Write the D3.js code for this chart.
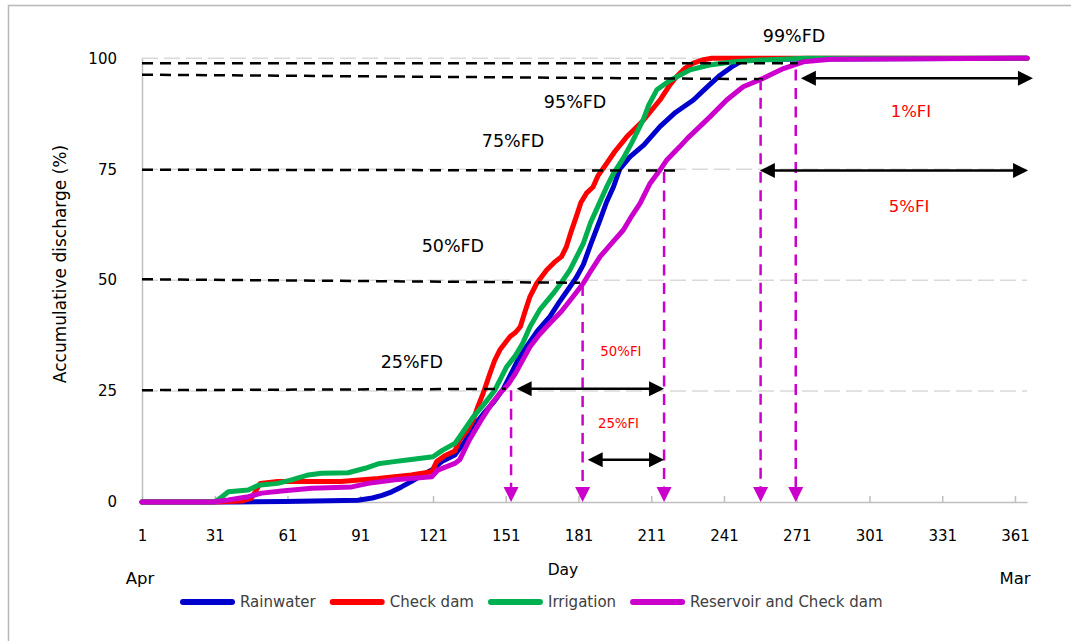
<!DOCTYPE html>
<html><head><meta charset="utf-8">
<script src="https://cdn.jsdelivr.net/npm/d3@7"></script>
<style>
body{margin:0;background:#fff}
svg{display:block}
text{font-family:"DejaVu Sans",Verdana,sans-serif}
</style>
</head><body>
<svg id="chart" width="1071" height="641"></svg>
<script>
// ---------------- data ----------------
const xTickValues = [1, 31, 61, 91, 121, 151, 181, 211, 241, 271, 301, 331, 361];
const yTickValues = [0, 25, 50, 75, 100];
const gridValues = [25, 50, 75, 100];
const seriesNames = ["Rainwater", "Check dam", "Irrigation", "Reservoir and Check dam"];
const seriesColors = ["#0000CC", "#FF0000", "#00B050", "#CC00CC"];

// [day, accumulative discharge %]
const rainwater = [[1,0],[40,0],[60,0.1],[90,0.4],[96,0.9],[100,1.5],[104,2.3],[108,3.4],[112,4.6],[116,5.9],[120.5,7.2],[124.6,9.1],[130,10.6],[134,13.5],[137.6,17],[142,20],[146,22.5],[150,25.5],[152.8,28.5],[156,32],[159.6,35],[164,38.5],[169.2,41.8],[173,45],[177.5,48.5],[180,50.5],[183,53.5],[186,58],[189.9,63.6],[192.5,67.5],[195.4,71],[198,75],[202.2,77.8],[208,80.5],[214.6,84.6],[221,87.8],[228.4,90.6],[234,93.5],[239.4,96.2],[244,98],[248,99.3],[252,99.8],[366,100]];
const checkDam = [[1,0],[31,0],[42,0.2],[46,0.8],[48,2.5],[49.7,4.2],[57,4.6],[83,4.6],[98.4,5.3],[112,6.1],[120.5,6.8],[122.5,9.1],[126,10.5],[130,11.5],[132,14],[135,16],[137.6,18.5],[139.5,21.5],[141.7,24.5],[144.5,29],[146.5,32],[148.6,34.3],[152.8,37.3],[155,38.2],[157,39.5],[159,43],[161,46.3],[163.8,49.3],[167.9,52.3],[171,54],[174,55.3],[176,57.5],[178,61],[180.2,64.5],[182,67.5],[184.3,69.6],[187,71],[189,73.5],[192.6,76.3],[196,79],[200.9,82.3],[207.7,86],[214.6,90.6],[218.7,94],[221.5,95.9],[225,97.8],[228.4,98.9],[232,99.6],[236,100],[366,100]];
const irrigation = [[1,0],[31,0],[34,1.2],[36.6,2.3],[44.8,2.7],[49,3.8],[57,4.2],[62.7,5],[69.6,6.1],[75,6.5],[86,6.6],[93,7.6],[98.4,8.6],[105,9.1],[112,9.6],[121,10.2],[125,11.7],[130,13.2],[132,14.7],[137.6,19.2],[142,22],[146.5,25.2],[151.4,30.5],[155,33],[158,35.8],[161,39.5],[165,43.3],[170.6,47],[174,49.5],[177.5,52.3],[180,55],[183,58.3],[186,63],[188.5,66],[192.6,71],[195.4,74],[199.5,77.5],[203,81],[207.7,86.2],[210,89.5],[213.3,92.9],[218.7,95],[227,97.4],[235,98.5],[245,99.2],[256,99.6],[275,100],[366,100]];
const reservoirCheckDam = [[1,0],[30,0],[36.6,0.45],[44.8,1.2],[50.3,2],[58.6,2.5],[71,3.1],[87.5,3.4],[94.3,4.2],[105.3,5],[120.5,5.7],[123,7.2],[130,8.7],[132,9.5],[136,14],[141.7,19.2],[145,22],[148.6,24.5],[152,26.5],[155,29],[161,35],[165,37.8],[169.2,40.3],[174,43],[178.8,46.3],[183,49.3],[186,52],[189.9,55.3],[195,58.5],[199.5,61.3],[203,64.5],[206.4,67.3],[210.5,71.8],[214.6,74.8],[217.3,77],[222.8,80.1],[226,82],[231,84.6],[235.2,86.8],[242.1,90.6],[248.9,93.6],[257.2,95.5],[265.5,97.7],[273.7,99.2],[285,99.8],[366,100]];
const seriesData = [rainwater, checkDam, irrigation, reservoirCheckDam];

// flow-duration reference lines: [startDay, startValue, endDay, endValue]
const fdLines = [[1,98.9,271.5,98.9],[1,96.3,257,95.3],[1,74.9,220.8,74.7],[1,50.2,181.6,49.4],[1,25.2,151,25.5]];
// drop lines to the day axis: [day, topValue]
const dropLines = [[153.2,25.2],[182.7,48.9],[216.3,74.4],[256.1,95.3],[270.6,97.5]];
// double arrows: [value, fromDay, toDay]
const fiArrows = [[25.5,155.5,216.3],[9.5,184.8,216.3],[95.5,272.7,368.4],[74.7,255.8,366.4]];
// annotation labels: [text, day, value]
const fdLabels = [["99%FD",269.9,103.7],["95%FD",179.6,88.8],["75%FD",154,80],["50%FD",129.2,56.3],["25%FD",112.3,30.2]];
const fiLabelsSmall = [["50%FI",198.5,32.9],["25%FI",197.5,16.7]];
const fiLabelsLarge = [["1%FI",318.1,86.8],["5%FI",317.3,65.4]];

// ---------------- drawing ----------------
const svg = d3.select("#chart");
svg.append("rect").attr("x",0).attr("y",0).attr("width",1071).attr("height",641).attr("fill","#fff");
svg.append("rect").attr("x",8.5).attr("y",5.5).attr("width",1100).attr("height",700)
   .attr("fill","none").attr("stroke","#b8b8b8").attr("stroke-width",1.5);

const x = d3.scaleLinear().domain([1,366]).range([142,1027.1]);
const y = d3.scaleLinear().domain([0,100]).range([502,58.3]);

// gridlines
svg.append("g").selectAll("line").data(gridValues).join("line")
  .attr("x1",x(1)).attr("x2",x(366)).attr("y1",d=>y(d)).attr("y2",d=>y(d))
  .attr("stroke","#d9d9d9").attr("stroke-width",1.5).attr("stroke-dasharray","16,6");

// y axis
const yAxis = svg.append("g").attr("transform",`translate(${x(1)},0)`)
  .call(d3.axisLeft(y).tickValues(yTickValues).tickSize(0).tickPadding(25).tickFormat(d3.format("d")));
yAxis.select(".domain").attr("stroke","#bfbfbf").attr("stroke-width",1.5);
yAxis.selectAll("text").attr("font-size","15px").attr("fill","#000").attr("font-family","DejaVu Sans");

// x axis
const xAxis = svg.append("g").attr("transform",`translate(0,${y(0)})`)
  .call(d3.axisBottom(x).tickValues(xTickValues).tickSize(-6).tickSizeOuter(0).tickPadding(28).tickFormat(d3.format("d")));
xAxis.select(".domain").attr("stroke","#bfbfbf").attr("stroke-width",1.5);
xAxis.selectAll(".tick line").attr("stroke","#bfbfbf").attr("stroke-width",1.5);
xAxis.selectAll("text").attr("font-size","15px").attr("fill","#000").attr("font-family","DejaVu Sans");

// curves
const line = d3.line().x(d=>x(d[0])).y(d=>y(d[1]));
svg.append("g").selectAll("path").data(seriesData).join("path")
  .attr("d",line).attr("fill","none")
  .attr("stroke",(d,i)=>seriesColors[i]).attr("stroke-width",5)
  .attr("stroke-linejoin","round").attr("stroke-linecap","round");

// FD dashed lines
svg.append("g").selectAll("line").data(fdLines).join("line")
  .attr("x1",d=>x(d[0])).attr("y1",d=>y(d[1])).attr("x2",d=>x(d[2])).attr("y2",d=>y(d[3]))
  .attr("stroke","#000").attr("stroke-width",2.5).attr("stroke-dasharray","11,7");

// magenta drop lines with arrowheads
const drop = svg.append("g");
drop.selectAll("line").data(dropLines).join("line")
  .attr("x1",d=>x(d[0])).attr("x2",d=>x(d[0])).attr("y1",d=>y(d[1])).attr("y2",y(0)-14)
  .attr("stroke","#CC00CC").attr("stroke-width",2.5).attr("stroke-dasharray","11,7.5");
drop.selectAll("path").data(dropLines).join("path")
  .attr("d",d=>{const px=x(d[0]), py=y(0); return `M${px},${py}L${px-7.5},${py-15}L${px+7.5},${py-15}Z`;})
  .attr("fill","#CC00CC");

// double arrows
const arr = svg.append("g");
arr.selectAll("line").data(fiArrows).join("line")
  .attr("x1",d=>x(d[1])+10).attr("x2",d=>x(d[2])-10).attr("y1",d=>y(d[0])).attr("y2",d=>y(d[0]))
  .attr("stroke","#000").attr("stroke-width",2.5);
arr.selectAll("path.l").data(fiArrows).join("path").attr("class","l")
  .attr("d",d=>{const px=x(d[1]), py=y(d[0]); return `M${px},${py}L${px+15},${py-7.5}L${px+15},${py+7.5}Z`;})
  .attr("fill","#000");
arr.selectAll("path.r").data(fiArrows).join("path").attr("class","r")
  .attr("d",d=>{const px=x(d[2]), py=y(d[0]); return `M${px},${py}L${px-15},${py-7.5}L${px-15},${py+7.5}Z`;})
  .attr("fill","#000");

// labels
svg.append("g").selectAll("text").data(fdLabels).join("text")
  .attr("x",d=>x(d[1])).attr("y",d=>y(d[2])).attr("text-anchor","middle")
  .attr("font-size","17.5px").attr("fill","#000").text(d=>d[0]);
svg.append("g").selectAll("text").data(fiLabelsSmall).join("text")
  .attr("x",d=>x(d[1])).attr("y",d=>y(d[2])).attr("text-anchor","middle")
  .attr("font-size","13.3px").attr("fill","#FF0000").text(d=>d[0]);
svg.append("g").selectAll("text").data(fiLabelsLarge).join("text")
  .attr("x",d=>x(d[1])).attr("y",d=>y(d[2])).attr("text-anchor","middle")
  .attr("font-size","16.5px").attr("fill","#FF0000").text(d=>d[0]);

// axis titles
svg.append("text").attr("transform",`translate(66,264) rotate(-90)`).attr("text-anchor","middle")
  .attr("font-size","17px").attr("fill","#000").text("Accumulative discharge (%)");
svg.append("text").attr("x",563).attr("y",575).attr("text-anchor","middle")
  .attr("font-size","15.5px").attr("fill","#000").text("Day");
svg.append("text").attr("x",x(1)-2).attr("y",584).attr("text-anchor","middle")
  .attr("font-size","16.5px").attr("fill","#000").text("Apr");
svg.append("text").attr("x",x(361)).attr("y",584).attr("text-anchor","middle")
  .attr("font-size","16.5px").attr("fill","#000").text("Mar");

// legend
const legend = svg.append("g");
let cx = 180;
const ly = 602;
seriesNames.forEach((name,i)=>{
  legend.append("line").attr("x1",cx+3).attr("x2",cx+52).attr("y1",ly).attr("y2",ly)
    .attr("stroke",seriesColors[i]).attr("stroke-width",6).attr("stroke-linecap","round");
  const t = legend.append("text").attr("x",cx+60).attr("y",ly+5).attr("font-size","15px")
    .attr("fill","#404040").text(name);
  cx += 60 + t.node().getComputedTextLength() + 14;
});
</script>
</body></html>
